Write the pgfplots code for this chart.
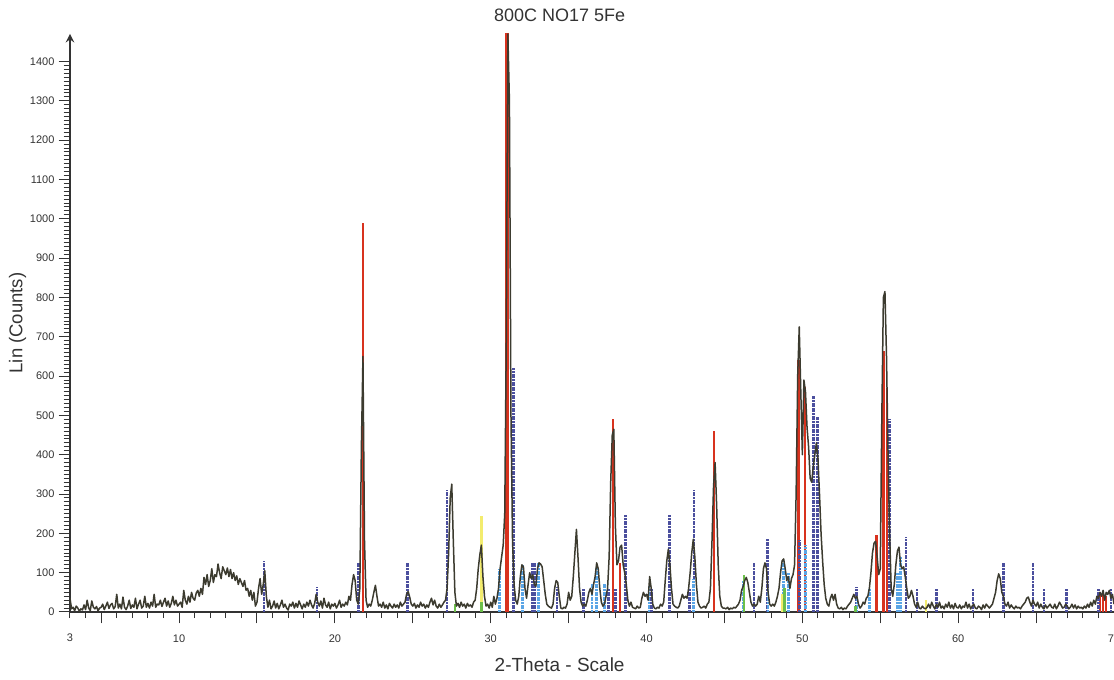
\documentclass[border=0pt]{standalone}
\usepackage{fontspec}
\setmainfont{Liberation Sans}
\usepackage{pgfplots}
\pgfplotsset{compat=1.18}
\definecolor{xrdline}{HTML}{3C3B2F}
\definecolor{txtgray}{HTML}{333333}
\definecolor{stickred}{HTML}{D8321E}
\definecolor{stickblue}{HTML}{4B4F9E}
\definecolor{sticklight}{HTML}{5AA5E6}
\definecolor{stickyellow}{HTML}{F3EC6E}
\definecolor{stickgreen}{HTML}{6CBF4A}

\begin{document}
\begin{tikzpicture}
\begin{axis}[
  scale only axis, width=417.6pt, height=231.2pt,
  xmin=3, xmax=70, ymin=0, ymax=1470,
  axis x line*=bottom, axis y line=left,
  axis line style={txtgray, line width=0.5pt},
  tick align=outside, major tick length=4.5pt, minor tick length=2.5pt,
  tick style={txtgray, line width=0.4pt},
  xtick={5,10,...,70}, xticklabels={,10,,20,,30,,40,,50,,60,,70},
  extra x ticks={3}, extra x tick labels={3},
  extra x tick style={major tick length=2.5pt, xticklabel style={yshift=-1.6pt}},
  minor xtick={4,...,69},
  ytick={0,100,...,1400}, minor y tick num=9,
  /pgf/number format/1000 sep={},
  /pgf/number format/assume math mode=true,
  ticklabel style={font=\fontsize{4.4}{5}\selectfont, text=txtgray},
  xticklabel style={yshift=-0.9pt},
  yticklabel style={xshift=1.8pt},
  title={800C NO17 5Fe},
  title style={at={(rel axis cs:0.469,1)}, anchor=center, yshift=1.6pt,
    font=\fontsize{7.2}{8}\selectfont, text=txtgray},
  xlabel={2-Theta - Scale},
  xlabel style={at={(rel axis cs:0.469,0)}, anchor=center, yshift=-21.2pt,
    font=\fontsize{7.6}{8}\selectfont, text=txtgray},
  ylabel={Lin (Counts)},
  ylabel style={at={(rel axis cs:0,0.5)}, anchor=center, yshift=21pt,
    font=\fontsize{7.4}{8}\selectfont, text=txtgray},
  clip=true,
]
% reference pattern: red phase
\addplot[ycomb, no marks, draw=stickred, line width=0.9pt] coordinates {
  (21.8,990) (31.05,1500) (37.85,490) (38.3,125) (44.35,460)
  (49.75,640) (50.15,572) (54.75,195) (55.2,665) (55.45,570)
  (69.1,45) (69.3,50) (69.5,40)
};
\addplot[ycomb, no marks, draw=stickred, line width=1.6pt] coordinates {(31.05,1500)};
% reference pattern: dark blue phase
\addplot[ycomb, no marks, draw=stickblue, line width=1.1pt, dash pattern=on 0.8pt off 0.25pt] coordinates {
  (15.45,130) (18.85,63) (21.5,125) (24.65,125) (27.2,310) (31.45,620)
  (32.65,125) (32.8,125) (34.25,63) (35.95,60) (37.55,60) (38.0,60) (38.65,246)
  (40.3,60) (41.45,246) (42.75,60) (43.05,310) (46.9,125) (47.75,185)
  (49.8,183) (50.7,550) (50.95,495) (53.45,63) (55.6,490) (56.65,190)
  (57.35,60) (58.6,60) (60.95,60) (62.9,125) (64.8,125) (65.5,60)
  (66.95,60) (69.0,60) (69.8,60)
};
% reference pattern: light blue phase
\addplot[ycomb, no marks, draw=sticklight, line width=1.1pt, dash pattern=on 0.8pt off 0.25pt] coordinates {
  (30.55,110) (32.05,120) (33.05,125) (36.5,70) (36.8,112) (37.3,70)
  (40.15,65) (43.0,85) (46.2,80) (47.8,60) (48.8,130) (49.1,100)
  (50.2,170) (53.5,40) (54.3,60) (56.1,100) (56.3,140)
};
% reference pattern: yellow and green phases
\addplot[ycomb, no marks, draw=stickyellow, line width=1pt] coordinates {
  (29.4,245) (48.7,45) (57.95,30)
};
\addplot[ycomb, no marks, draw=stickgreen, line width=1pt] coordinates {
  (27.7,20) (29.4,25) (46.25,95) (48.85,60) (53.4,15)
};
% measured pattern
\addplot[no marks, draw=xrdline, line width=0.6pt, line join=round] coordinates {
(3.0,35)(3.1,8)(3.2,12)(3.3,3)(3.4,15)(3.5,10)(3.6,2)(3.7,8)(3.8,5)(3.9,18)
(4.0,6)(4.1,30)(4.2,10)(4.3,4)(4.4,28)(4.5,12)(4.6,8)(4.7,14)(4.8,3)(4.9,10)
(5.0,12)(5.1,20)(5.2,6)(5.3,15)(5.4,25)(5.5,9)(5.6,18)(5.7,22)(5.8,8)(5.9,14)
(6.0,45)(6.1,10)(6.2,20)(6.3,8)(6.4,38)(6.5,12)(6.6,6)(6.7,15)(6.8,30)(6.9,9)
(7.0,18)(7.1,12)(7.2,35)(7.3,8)(7.4,20)(7.5,30)(7.6,10)(7.7,15)(7.8,40)(7.9,12)
(8.0,22)(8.1,10)(8.2,25)(8.3,15)(8.4,45)(8.5,12)(8.6,20)(8.7,18)(8.8,30)(8.9,14)
(9.0,25)(9.1,35)(9.2,15)(9.3,28)(9.4,12)(9.5,22)(9.6,40)(9.7,18)(9.8,30)(9.9,15)
(10.0,20)(10.1,25)(10.2,12)(10.3,55)(10.4,30)(10.5,20)(10.6,40)(10.7,25)(10.8,50)(10.9,35)
(11.0,30)(11.1,48)(11.2,55)(11.3,40)(11.4,60)(11.5,45)(11.6,88)(11.7,70)(11.8,95)(11.9,65)
(12.0,80)(12.1,110)(12.2,75)(12.3,95)(12.4,90)(12.5,122)(12.6,100)(12.7,85)(12.8,115)(12.9,105)
(13.0,95)(13.1,112)(13.2,90)(13.3,108)(13.4,85)(13.5,100)(13.6,80)(13.7,92)(13.8,70)(13.9,85)
(14.0,75)(14.1,65)(14.2,80)(14.3,55)(14.4,60)(14.5,40)(14.6,55)(14.7,30)(14.8,50)(14.9,15)
(15.0,25)(15.1,60)(15.2,85)(15.3,45)(15.4,70)(15.5,105)(15.6,40)(15.7,12)(15.8,30)(15.9,8)
(16.0,15)(16.1,28)(16.2,10)(16.3,22)(16.4,8)(16.5,18)(16.6,30)(16.7,12)(16.8,20)(16.9,10)
(17.0,5)(17.1,20)(17.2,15)(17.3,25)(17.4,10)(17.5,22)(17.6,12)(17.7,28)(17.8,18)(17.9,8)
(18.0,20)(18.1,12)(18.2,25)(18.3,15)(18.4,30)(18.5,18)(18.6,10)(18.7,22)(18.8,45)(18.9,25)
(19.0,15)(19.1,28)(19.2,10)(19.3,35)(19.4,18)(19.5,12)(19.6,25)(19.7,8)(19.8,20)(19.9,15)
(20.0,22)(20.1,10)(20.2,18)(20.3,30)(20.4,12)(20.5,20)(20.6,15)(20.7,25)(20.8,18)(20.9,40)
(21.0,30)(21.1,70)(21.2,95)(21.3,80)(21.4,30)(21.5,20)(21.6,60)(21.7,420)(21.8,650)(21.9,180)
(22.0,30)(22.1,12)(22.2,20)(22.3,15)(22.4,30)(22.5,50)(22.6,68)(22.7,40)(22.8,15)(22.9,20)
(23.0,12)(23.1,25)(23.2,10)(23.3,18)(23.4,8)(23.5,22)(23.6,15)(23.7,10)(23.8,20)(23.9,12)
(24.0,18)(24.1,10)(24.2,25)(24.3,15)(24.4,20)(24.5,25)(24.6,45)(24.7,52)(24.8,38)(24.9,20)
(25.0,15)(25.1,22)(25.2,10)(25.3,18)(25.4,12)(25.5,25)(25.6,15)(25.7,20)(25.8,10)(25.9,18)
(26.0,12)(26.1,25)(26.2,35)(26.3,18)(26.4,30)(26.5,15)(26.6,10)(26.7,20)(26.8,12)(26.9,18)
(27.0,25)(27.1,30)(27.2,60)(27.3,150)(27.4,290)(27.5,325)(27.6,180)(27.7,50)(27.8,15)(27.9,22)
(28.0,12)(28.1,25)(28.2,15)(28.3,20)(28.4,10)(28.5,22)(28.6,15)(28.7,18)(28.8,12)(28.9,25)
(29.0,30)(29.1,60)(29.2,110)(29.3,145)(29.4,170)(29.5,90)(29.6,40)(29.7,15)(29.8,20)(29.9,10)
(30.0,25)(30.1,12)(30.2,40)(30.3,20)(30.4,35)(30.5,60)(30.6,110)(30.7,140)(30.8,170)(30.9,250)
(31.0,700)(31.1,1470)(31.2,1300)(31.3,500)(31.4,180)(31.5,70)(31.6,30)(31.7,20)(31.8,40)(31.9,90)
(32.0,120)(32.1,115)(32.2,60)(32.3,35)(32.4,70)(32.5,100)(32.6,85)(32.7,95)(32.8,70)(32.9,65)
(33.0,110)(33.1,125)(33.2,122)(33.3,115)(33.4,80)(33.5,45)(33.6,20)(33.7,15)(33.8,12)(33.9,10)
(34.0,20)(34.1,60)(34.2,80)(34.3,75)(34.4,40)(34.5,10)(34.6,8)(34.7,12)(34.8,10)(34.9,20)
(35.0,50)(35.1,30)(35.2,40)(35.3,90)(35.4,150)(35.5,210)(35.6,140)(35.7,60)(35.8,25)(35.9,15)
(36.0,20)(36.1,15)(36.2,30)(36.3,50)(36.4,60)(36.5,45)(36.6,70)(36.7,90)(36.8,125)(36.9,110)
(37.0,60)(37.1,25)(37.2,15)(37.3,20)(37.4,40)(37.5,60)(37.6,140)(37.7,330)(37.8,450)(37.9,465)
(38.0,220)(38.1,120)(38.2,130)(38.3,165)(38.4,170)(38.5,120)(38.6,100)(38.7,70)(38.8,30)(38.9,15)
(39.0,25)(39.1,12)(39.2,10)(39.3,8)(39.4,15)(39.5,10)(39.6,12)(39.7,35)(39.8,50)(39.9,40)
(40.0,45)(40.1,30)(40.2,90)(40.3,60)(40.4,20)(40.5,10)(40.6,8)(40.7,12)(40.8,10)(40.9,20)
(41.0,15)(41.1,25)(41.2,80)(41.3,130)(41.4,160)(41.5,120)(41.6,60)(41.7,20)(41.8,15)(41.9,12)
(42.0,10)(42.1,15)(42.2,30)(42.3,45)(42.4,35)(42.5,40)(42.6,35)(42.7,60)(42.8,100)(42.9,150)
(43.0,185)(43.1,140)(43.2,70)(43.3,25)(43.4,15)(43.5,10)(43.6,12)(43.7,15)(43.8,10)(43.9,20)
(44.0,25)(44.1,60)(44.2,180)(44.3,320)(44.4,380)(44.5,270)(44.6,120)(44.7,40)(44.8,15)(44.9,10)
(45.0,10)(45.1,8)(45.2,12)(45.3,6)(45.4,10)(45.5,8)(45.6,12)(45.7,10)(45.8,15)(45.9,20)
(46.0,30)(46.1,55)(46.2,65)(46.3,80)(46.4,88)(46.5,75)(46.6,50)(46.7,25)(46.8,15)(46.9,20)
(47.0,15)(47.1,20)(47.2,40)(47.3,25)(47.4,60)(47.5,110)(47.6,125)(47.7,110)(47.8,50)(47.9,20)
(48.0,15)(48.1,20)(48.2,15)(48.3,25)(48.4,40)(48.5,60)(48.6,100)(48.7,130)(48.8,135)(48.9,110)
(49.0,80)(49.1,90)(49.2,60)(49.3,85)(49.4,95)(49.5,120)(49.6,300)(49.7,600)(49.8,725)(49.9,560)
(50.0,400)(50.1,590)(50.2,560)(50.3,470)(50.4,420)(50.5,340)(50.6,330)(50.7,370)(50.8,400)(50.9,430)
(51.0,390)(51.1,300)(51.2,200)(51.3,130)(51.4,70)(51.5,35)(51.6,20)(51.7,15)(51.8,35)(51.9,45)
(52.0,30)(52.1,45)(52.2,20)(52.3,10)(52.4,8)(52.5,12)(52.6,6)(52.7,10)(52.8,8)(52.9,15)
(53.0,20)(53.1,25)(53.2,35)(53.3,45)(53.4,35)(53.5,40)(53.6,20)(53.7,10)(53.8,15)(53.9,25)
(54.0,20)(54.1,35)(54.2,40)(54.3,60)(54.4,100)(54.5,150)(54.6,175)(54.7,180)(54.8,140)(54.9,95)
(55.0,110)(55.1,500)(55.2,800)(55.3,815)(55.4,650)(55.5,400)(55.6,200)(55.7,60)(55.8,40)(55.9,70)
(56.0,120)(56.1,155)(56.2,165)(56.3,120)(56.4,110)(56.5,115)(56.6,90)(56.7,60)(56.8,35)(56.9,40)
(57.0,55)(57.1,40)(57.2,20)(57.3,12)(57.4,25)(57.5,10)(57.6,8)(57.7,15)(57.8,10)(57.9,8)
(58.0,12)(58.1,20)(58.2,10)(58.3,25)(58.4,15)(58.5,8)(58.6,20)(58.7,12)(58.8,25)(58.9,10)
(59.0,15)(59.1,8)(59.2,20)(59.3,12)(59.4,25)(59.5,10)(59.6,18)(59.7,8)(59.8,22)(59.9,12)
(60.0,10)(60.1,18)(60.2,8)(60.3,15)(60.4,12)(60.5,25)(60.6,10)(60.7,20)(60.8,8)(60.9,15)
(61.0,20)(61.1,10)(61.2,8)(61.3,15)(61.4,12)(61.5,6)(61.6,18)(61.7,10)(61.8,20)(61.9,15)
(62.0,10)(62.1,15)(62.2,20)(62.3,35)(62.4,50)(62.5,80)(62.6,97)(62.7,85)(62.8,50)(62.9,40)
(63.0,20)(63.1,15)(63.2,25)(63.3,10)(63.4,18)(63.5,12)(63.6,8)(63.7,15)(63.8,10)(63.9,12)
(64.0,8)(64.1,15)(64.2,20)(64.3,25)(64.4,35)(64.5,38)(64.6,25)(64.7,15)(64.8,30)(64.9,20)
(65.0,15)(65.1,25)(65.2,10)(65.3,20)(65.4,12)(65.5,8)(65.6,18)(65.7,10)(65.8,15)(65.9,20)
(66.0,12)(66.1,10)(66.2,20)(66.3,8)(66.4,15)(66.5,25)(66.6,18)(66.7,10)(66.8,12)(66.9,20)
(67.0,15)(67.1,8)(67.2,12)(67.3,20)(67.4,10)(67.5,18)(67.6,8)(67.7,15)(67.8,10)(67.9,12)
(68.0,8)(68.1,15)(68.2,10)(68.3,20)(68.4,12)(68.5,25)(68.6,15)(68.7,30)(68.8,20)(68.9,40)
(69.0,35)(69.1,50)(69.2,40)(69.3,55)(69.4,30)(69.5,50)(69.6,45)(69.7,55)(69.8,35)(69.9,45)
(70.0,20)
};
\end{axis}
\pgfresetboundingbox
\path[use as bounding box] ([xshift=-28pt,yshift=-27.2pt]current axis.south west)
  rectangle ([yshift=13.6pt]current axis.north east);
\end{tikzpicture}
\end{document}
